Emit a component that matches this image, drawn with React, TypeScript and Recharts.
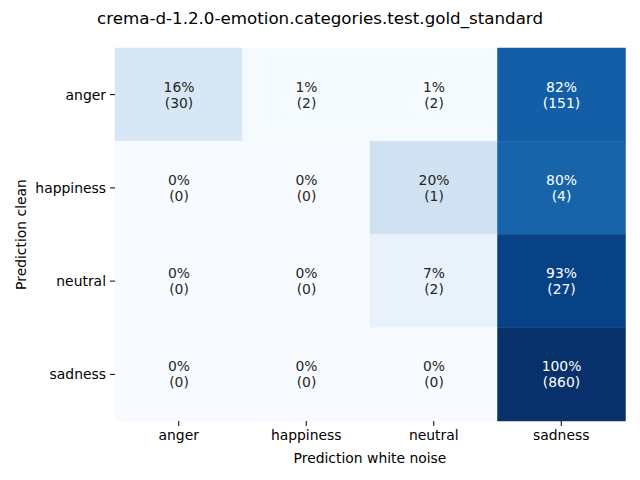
import { BarChart, Bar, XAxis, YAxis, Cell, LabelList } from "recharts";

const predicted = ["anger", "happiness", "neutral", "sadness"];
const actual = ["anger", "happiness", "neutral", "sadness"];

// rows = clean (actual), cols = white noise (predicted)
const percentRows = [
  [16, 1, 1, 82],
  [0, 0, 20, 80],
  [0, 0, 7, 93],
  [0, 0, 0, 100],
];
const countRows = [
  [30, 2, 2, 151],
  [0, 0, 1, 4],
  [0, 0, 2, 27],
  [0, 0, 0, 860],
];

const rowTicks = [0.5, 1.5, 2.5, 3.5];

const BLUES = ["#f7fbff", "#deebf7", "#c6dbef", "#9ecae1", "#6baed6", "#4292c6", "#2171b5", "#08519c", "#08306b"];

function hex(c: string) {
  return [1, 3, 5].map((i) => parseInt(c.slice(i, i + 2), 16));
}

function blues(v: number) {
  const t = Math.max(0, Math.min(1, v / 100)) * (BLUES.length - 1);
  const i = Math.min(Math.floor(t), BLUES.length - 2);
  const f = t - i;
  const a = hex(BLUES[i]);
  const b = hex(BLUES[i + 1]);
  const rgb = a.map((x, k) => Math.round(x + (b[k] - x) * f));
  return `rgb(${rgb.join(",")})`;
}

// one stacked segment per actual class, each of height 1
const data = predicted.map((p) => {
  const d: Record<string, string | number> = { pred: p };
  actual.forEach((_, r) => (d["r" + r] = 1));
  return d;
});

const font = "DejaVu Sans, sans-serif";
const fs = 13.9;

function cellLabel(r: number) {
  return (props: any) => {
    const { x, y, width, height, index } = props;
    const pct = percentRows[r][index];
    const fill = pct > 50 ? "#ffffff" : "#262626";
    const cx = x + width / 2;
    const cy = y + height / 2;
    return (
      <text x={cx} y={cy} textAnchor="middle" fill={fill} fontSize={fs} fontFamily={font}>
        <tspan x={cx} dy={-3}>{pct}%</tspan>
        <tspan x={cx} dy={16}>({countRows[r][index]})</tspan>
      </text>
    );
  };
}

export default function App() {
  return (
    <div style={{ position: "absolute", left: 0, top: 0, width: 640, height: 480, background: "#fff" }}>
      <div
        style={{
          position: "absolute",
          top: 8,
          left: 0,
          width: 640,
          textAlign: "center",
          fontFamily: font,
          fontSize: 16.7,
          color: "#000",
        }}
      >
        crema-d-1.2.0-emotion.categories.test.gold_standard
      </div>
      <BarChart
        width={640}
        height={480}
        data={data}
        margin={{ top: 48, right: 15, bottom: 14, left: 0 }}
        barCategoryGap={0}
        barGap={0}
      >
        <XAxis
          dataKey="pred"
          axisLine={false}
          tickLine={{ stroke: "#000" }}
          tickSize={5}
          tickMargin={4}
          height={45}
          tick={{ fill: "#000", fontSize: fs, fontFamily: font }}
          label={{ value: "Prediction white noise", position: "insideBottom", offset: 3, fill: "#000", fontSize: fs, fontFamily: font }}
        />
        <YAxis
          type="number"
          domain={[0, 4]}
          ticks={rowTicks}
          reversed
          width={115}
          axisLine={false}
          tickLine={{ stroke: "#000" }}
          tickSize={5}
          tickMargin={4}
          tickFormatter={(v: number) => actual[Math.floor(v)]}
          tick={{ fill: "#000", fontSize: fs, fontFamily: font }}
          label={{
            value: "Prediction clean",
            angle: -90,
            position: "insideLeft",
            offset: 21,
            fill: "#000",
            fontSize: fs,
            fontFamily: font,
            style: { textAnchor: "middle" },
          }}
        />
        {actual.map((a, r) => (
          <Bar key={a} dataKey={"r" + r} stackId="m" isAnimationActive={false}>
            {predicted.map((p, c) => (
              <Cell key={p} fill={blues(percentRows[r][c])} stroke={blues(percentRows[r][c])} strokeWidth={0.5} />
            ))}
            <LabelList dataKey={"r" + r} content={cellLabel(r)} />
          </Bar>
        ))}
      </BarChart>
    </div>
  );
}
